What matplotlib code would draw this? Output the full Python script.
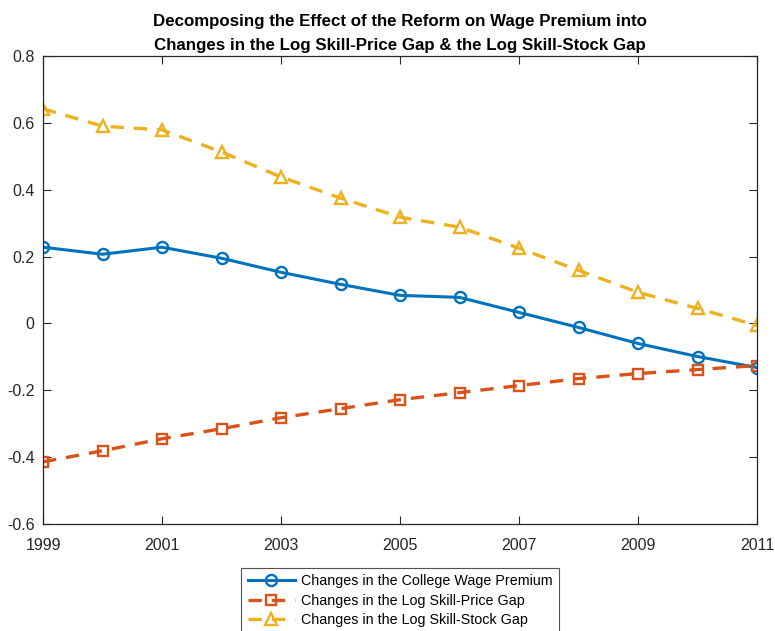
import matplotlib
matplotlib.use("Agg")
import matplotlib.pyplot as plt
import numpy as np

plt.rcParams['font.family'] = ['Liberation Sans', 'DejaVu Sans']

years = [1999, 2000, 2001, 2002, 2003, 2004, 2005, 2006, 2007, 2008, 2009, 2010, 2011]
wage_premium = [0.228, 0.207, 0.228, 0.195, 0.153, 0.117, 0.084, 0.078, 0.033, -0.012, -0.060, -0.099, -0.132]
price_gap = [-0.414, -0.381, -0.345, -0.315, -0.282, -0.255, -0.228, -0.207, -0.186, -0.165, -0.150, -0.138, -0.126]
stock_gap = [0.642, 0.590, 0.579, 0.513, 0.438, 0.375, 0.318, 0.288, 0.225, 0.159, 0.093, 0.045, -0.006]
labels = ["Changes in the College Wage Premium",
          "Changes in the Log Skill-Price Gap",
          "Changes in the Log Skill-Stock Gap"]
xticks = [1999, 2001, 2003, 2005, 2007, 2009, 2011]
yticks = [-0.6, -0.4, -0.2, 0, 0.2, 0.4, 0.6, 0.8]
title = ("Decomposing the Effect of the Reform on Wage Premium into\n"
         "Changes in the Log Skill-Price Gap & the Log Skill-Stock Gap")

fig = plt.figure(figsize=(7.75, 6.31), dpi=100)
ax = fig.add_axes([43/775, 1-524/631, (757-43)/775, (524-56)/631])

blue, orange, yellow = '#0072BD', '#D95319', '#EDB120'
ax.plot(years, wage_premium, color=blue, lw=2.2, marker='o', ms=8, mfc='none', mew=1.7, label=labels[0])
ax.plot(years, price_gap, color=orange, lw=2.4, ls=(0, (4, 3)), marker='s', ms=7, mfc='none', mew=1.7, label=labels[1])
ax.plot(years, stock_gap, color=yellow, lw=2.4, ls=(0, (4, 3)), marker='^', ms=8, mfc='none', mew=1.7, label=labels[2])

ax.set_xlim(1999, 2011)
ax.set_ylim(-0.6, 0.8)
ax.set_xticks(xticks)
ax.set_xticklabels([str(x) for x in xticks])
ax.set_yticks(yticks)
ax.set_yticklabels(['-0.6', '-0.4', '-0.2', '0', '0.2', '0.4', '0.6', '0.8'])
ax.tick_params(direction='in', top=True, right=True, length=6, width=0.8, colors='#262626', labelsize=11.5)
ax.tick_params(axis='x', pad=10)
ax.tick_params(axis='y', pad=6)
for s in ax.spines.values():
    s.set_color('#262626')
    s.set_linewidth(0.9)

ax.set_title(title, fontsize=12.2, fontweight='bold', color='black', pad=4,
             linespacing=1.8)

leg = fig.legend(loc='upper center', bbox_to_anchor=(400/775, 1-568/631), borderaxespad=0,
                 frameon=True, fancybox=False, edgecolor='#262626', fontsize=10.3,
                 handlelength=3.3, borderpad=0.45, labelspacing=0.38, handletextpad=0.4)
leg.get_frame().set_linewidth(0.8)

fig.savefig('out.png', dpi=100)
